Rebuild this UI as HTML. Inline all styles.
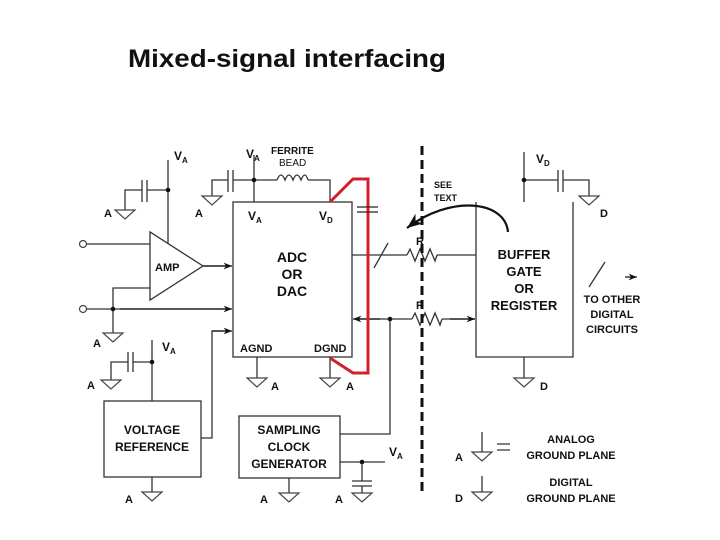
<!DOCTYPE html>
<html><head><meta charset="utf-8"><style>
html,body{margin:0;padding:0;background:#fff;width:720px;height:540px;overflow:hidden}
svg text{font-family:"Liberation Sans",Arial,sans-serif;font-weight:bold;fill:#111}
</style></head><body>
<svg width="720" height="540" viewBox="0 0 720 540" xmlns="http://www.w3.org/2000/svg">
<defs>
<marker id="ar" viewBox="0 0 10 10" refX="10" refY="5" markerWidth="7" markerHeight="7" orient="auto"><path d="M0,1 L10,5 L0,9 L3,5 Z" fill="#111"/></marker>
<g id="gnd"><path d="M-10,0 L10,0 L0,9 Z" fill="none" stroke="#444" stroke-width="1.2"/></g>
</defs>
<text x="128" y="67" font-size="25" textLength="318" lengthAdjust="spacingAndGlyphs">Mixed-signal interfacing</text>

<g stroke="#333" stroke-width="1.3" fill="none">
<rect x="233" y="202" width="119" height="155"/>
<path d="M150,232 L150,300 L203,266 Z"/>
<path d="M86,244 H150"/>
<path d="M86,309 H230"/>
<path d="M113,309 V288 H150"/>
<path d="M113,309 V333"/>
<path d="M203,266 H230"/>
<path d="M168,160 V243"/>
<path d="M168,190 H147 M147,180 V202 M142,180 V202 M142,190 H125 V210"/>
<path d="M254,155 V202"/>
<path d="M254,180 H233 M233,170 V192 M228,170 V192 M228,180 H212 V196"/>
<path d="M254,180 H277 M308,180 H330 V202"/>
<path d="M277,180 q4,-10 8,0 q4,-10 8,0 q4,-10 8,0 q4,-10 7,0"/>
<path d="M257,357 V378 M330,357 V378"/>
<rect x="104" y="401" width="97" height="76"/>
<path d="M152,340 V401 M152,362 H133 M133,352 V372 M128,352 V372 M128,362 H111 V380"/>
<path d="M152,477 V492"/>
<path d="M201,438 H212 V331 H230"/>
<rect x="239" y="416" width="101" height="62"/>
<path d="M340,434 H390 V319"/>
<path d="M340,462 H385 M362,462 V481 M352,481 H372 M352,486 H372 M362,486 V493"/>
<path d="M289,478 V493"/>
<path d="M352,255 H407 M437,255 H476"/>
<path d="M374,268 L388,243"/>
<path d="M407,255 l3,-6 l5,12 l5,-12 l5,12 l5,-12 l5,12 l2,-6"/>
<path d="M475,319 H442 M412,319 H356" />
<path d="M412,319 l3,-6 l5,12 l5,-12 l5,12 l5,-12 l5,12 l2,-6"/>
<path d="M476,202 V357 H573 V202"/>
<path d="M524,152 V202 M524,180 H558 M558,170 V192 M563,170 V192 M563,180 H589 V196"/>
<path d="M524,357 V378"/>
<path d="M589,287 L605,262"/>
<path d="M482,432 V452 M482,476 V492"/>
<path d="M497,444 H510 M497,450 H510"/>
</g>
<g stroke="#111" stroke-width="1.2" fill="none">
<path d="M203,266 H232" marker-end="url(#ar)"/>
<path d="M120,309 H232" marker-end="url(#ar)"/>
<path d="M212,331 H232" marker-end="url(#ar)"/>
<path d="M380,319 H353" marker-end="url(#ar)"/>
<path d="M450,319 H475" marker-end="url(#ar)"/>
<path d="M625,277 H637" marker-end="url(#ar)"/>
<path d="M508,232 C505,200 450,195 407,228" stroke-width="2.2" marker-end="url(#ar)"/>
</g>
<g fill="#fff" stroke="#444" stroke-width="1.2">
<circle cx="83" cy="244" r="3.5"/><circle cx="83" cy="309" r="3.5"/>
</g>
<g fill="#111">
<circle cx="168" cy="190" r="2.3"/><circle cx="254" cy="180" r="2.3"/>
<circle cx="113" cy="309" r="2.3"/><circle cx="152" cy="362" r="2.3"/>
<circle cx="390" cy="319" r="2.3"/><circle cx="362" cy="462" r="2.3"/>
<circle cx="524" cy="180" r="2.3"/>
</g>
<use href="#gnd" x="125" y="210"/><use href="#gnd" x="212" y="196"/>
<use href="#gnd" x="113" y="333"/><use href="#gnd" x="111" y="380"/>
<use href="#gnd" x="257" y="378"/><use href="#gnd" x="330" y="378"/>
<use href="#gnd" x="152" y="492"/><use href="#gnd" x="289" y="493"/>
<use href="#gnd" x="362" y="493"/><use href="#gnd" x="589" y="196"/>
<use href="#gnd" x="524" y="378"/><use href="#gnd" x="482" y="452"/>
<use href="#gnd" x="482" y="492"/>
<path d="M330,202 L353,179 H368 V373 H353 L330,358" fill="none" stroke="#d0202a" stroke-width="3"/>
<path d="M357,207 H378 M357,212 H378" stroke="#222" stroke-width="1.3"/>
<path d="M422,146 V492" stroke="#111" stroke-width="3" stroke-dasharray="9,5"/>

<g font-size="11">
<text x="174" y="160" font-size="12">V<tspan font-size="8" dy="3">A</tspan></text>
<text x="246" y="158" font-size="12">V<tspan font-size="8" dy="3">A</tspan></text>
<text x="271" y="154" font-size="10">FERRITE</text>
<text x="279" y="166" font-size="10" style="font-weight:normal">BEAD</text>
<text x="104" y="217">A</text><text x="195" y="217">A</text>
<text x="248" y="220" font-size="12">V<tspan font-size="8" dy="3">A</tspan></text>
<text x="319" y="220" font-size="12">V<tspan font-size="8" dy="3">D</tspan></text>
<g font-size="14" text-anchor="middle"><text x="292" y="262">ADC</text><text x="292" y="279">OR</text><text x="292" y="296">DAC</text></g>
<text x="155" y="271">AMP</text>
<text x="93" y="347">A</text>
<text x="162" y="351" font-size="12">V<tspan font-size="8" dy="3">A</tspan></text>
<text x="87" y="389">A</text>
<text x="240" y="352">AGND</text><text x="314" y="352">DGND</text>
<text x="271" y="390">A</text><text x="346" y="390">A</text>
<g font-size="12" text-anchor="middle"><text x="152" y="434">VOLTAGE</text><text x="152" y="451">REFERENCE</text>
<text x="289" y="434">SAMPLING</text><text x="289" y="451">CLOCK</text><text x="289" y="468">GENERATOR</text></g>
<text x="125" y="503">A</text><text x="260" y="503">A</text><text x="335" y="503">A</text>
<text x="389" y="456" font-size="12">V<tspan font-size="8" dy="3">A</tspan></text>
<text x="434" y="188" font-size="9">SEE</text><text x="434" y="201" font-size="9">TEXT</text>
<text x="416" y="245">R</text><text x="416" y="309">R</text>
<g font-size="13" text-anchor="middle"><text x="524" y="259">BUFFER</text><text x="524" y="276">GATE</text><text x="524" y="293">OR</text><text x="524" y="310">REGISTER</text></g>
<text x="536" y="163" font-size="12">V<tspan font-size="8" dy="3">D</tspan></text>
<text x="600" y="217">D</text>
<text x="540" y="390">D</text>
<g text-anchor="middle"><text x="612" y="303">TO OTHER</text><text x="612" y="318">DIGITAL</text><text x="612" y="333">CIRCUITS</text>
<text x="571" y="443">ANALOG</text><text x="571" y="459">GROUND PLANE</text>
<text x="571" y="486">DIGITAL</text><text x="571" y="502">GROUND PLANE</text></g>
<text x="455" y="461">A</text><text x="455" y="502">D</text>
</g>
</svg>
</body></html>
